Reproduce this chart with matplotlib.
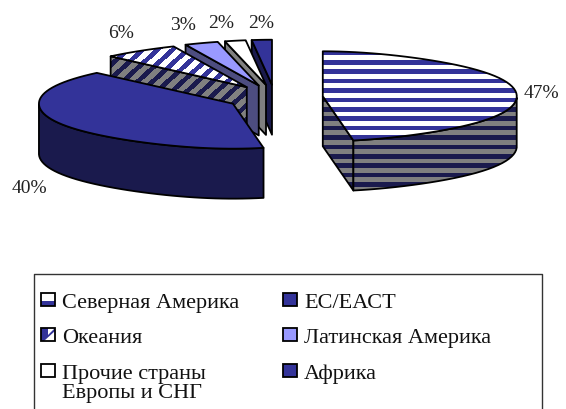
import numpy as np
import matplotlib
matplotlib.use("Agg")
import matplotlib.pyplot as plt
from matplotlib.patches import Polygon, Rectangle
from matplotlib.colors import ListedColormap

regions = ["Северная Америка", "ЕС/ЕАСТ", "Океания", "Латинская Америка",
           "Прочие страны\nЕвропы и СНГ", "Африка"]
shares = [47, 40, 6, 3, 2, 2]

# fill styles, same order as regions
top_colors = ["#333399", "#333399", "#333399", "#9999ff", "#ffffff", "#333399"]
side_colors = ["#1a1a4d", "#1a1a4d", "#1a1a4d", "#4d4d80", "#808080", "#1a1a4d"]
patterns = ["hline", None, "diag", None, None, None]
label_pos = [(541, 93), (29, 189), (121, 33), (183, 25), (221, 23), (261, 23)]
legend_pos = [(41, 294), (283, 294), (41, 329), (283, 329), (41, 365), (283, 365)]

rx, ry, depth, explode = 194, 45, 50, 48
cx, cy = 275, 98.5

plt.rcParams["font.family"] = ["Liberation Serif", "DejaVu Serif"]
fig = plt.figure(figsize=(5.66, 4.10), dpi=100)
ax = fig.add_axes([0, 0, 1, 1])
ax.set_xlim(0, 566)
ax.set_ylim(410, 0)
ax.axis("off")


def stripes(kind, c1, c2, box, zorder):
    x0, y0, x1, y1 = box
    xx, yy = np.meshgrid(np.arange(x0, x1) + 0.5, np.arange(y0, y1) + 0.5)
    if kind == "hline":
        img = ((yy - 4.55) % 9.4) < 4.7
    else:
        img = ((xx + yy * 1.1) % 15) < 7
    return ax.imshow(img.astype(int), cmap=ListedColormap([c1, c2]), vmin=0, vmax=1,
                     extent=(x0, x1, y1, y0), interpolation="bilinear",
                     zorder=zorder, aspect="auto")


def paint(pts, color, kind, z):
    if kind is None:
        ax.add_patch(Polygon(pts, closed=True, fc=color, ec="none", zorder=z))
    else:
        p = Polygon(pts, closed=True, fc="none", ec="none", zorder=z, transform=ax.transData)
        ax.add_patch(p)
        c2 = "#ffffff" if color == "#333399" else "#808080"
        im = stripes(kind, c2, color, (0, 0, 566, 270), z)
        im.set_clip_path(p)
    ax.add_patch(Polygon(pts, closed=True, fc="none", ec="black", lw=1.3, zorder=z + 0.05, joinstyle="round"))


def rim(ox, oy, deg):
    a = np.radians(deg)
    s = np.sin(a)
    return np.column_stack([ox + rx * np.cos(a) * (1 - 0.17 * s ** 4), oy - ry * s])


# slices run clockwise from 12 o'clock
edges = 90 - np.cumsum([0] + shares) * 3.6
draw_order = [0, 5, 4, 3, 2, 1]

for n, i in enumerate(draw_order):
    a0, a1 = edges[i], edges[i + 1]
    mid = np.radians((a0 + a1) / 2)
    ox = cx + explode * np.cos(mid)
    oy = cy - explode * 1.15 * ry / rx * np.sin(mid)
    arc = rim(ox, oy, np.linspace(a0, a1, 60))
    z = 2 + n
    down = np.array([0, depth])
    apex = np.array([ox, oy])

    # cut faces that look towards the viewer
    for edge_pt, normal in [(arc[-1], a1 - 90), (arc[0], a0 + 90)]:
        if np.sin(np.radians(normal)) < -0.01:
            face = np.array([apex, edge_pt, edge_pt + down, apex + down])
            paint(face, side_colors[i], patterns[i], z)

    # outer wall
    front = arc[np.sin(np.radians(np.linspace(a0, a1, 60))) < 0]
    if len(front) > 1:
        wall = np.vstack([front, (front + down)[::-1]])
        paint(wall, side_colors[i], patterns[i], z + 0.1)

    top = np.vstack([apex, arc])
    if top_colors[i] == "#333399" and patterns[i] is not None:
        paint(top, "#333399", patterns[i], z + 0.2)
    else:
        paint(top, top_colors[i], None, z + 0.2)

for v, (lx, ly) in zip(shares, label_pos):
    ax.text(lx, ly, f"{v}%", fontsize=14, color="#222222", ha="center", va="center", zorder=20)

# legend box, its bottom edge falls off the picture
ax.plot([33.5, 33.5, 541.5, 541.5], [410, 274.5, 274.5, 410], color="#333333", lw=1.0, zorder=20)
for i, (lx, ly) in enumerate(legend_pos):
    sw = [(lx, ly), (lx + 14, ly), (lx + 14, ly + 13), (lx, ly + 13)]
    if patterns[i] == "hline":
        ax.add_patch(Rectangle((lx, ly), 14, 13, fc="white", ec="none", zorder=20))
        ax.add_patch(Rectangle((lx, ly + 8), 14, 5, fc=top_colors[i], ec="none", zorder=20))
    elif patterns[i] == "diag":
        ax.add_patch(Rectangle((lx, ly), 14, 13, fc=top_colors[i], ec="none", zorder=20))
        ax.add_patch(Polygon([(lx + 3, ly + 13), (lx + 14, ly + 3), (lx + 14, ly + 13)], fc="white", ec="none", zorder=20))
        ax.add_patch(Polygon([(lx + 7, ly + 7), (lx + 14, ly), (lx + 7, ly)], fc="white", ec="none", zorder=20))
    else:
        ax.add_patch(Rectangle((lx, ly), 14, 13, fc=top_colors[i], ec="none", zorder=20))
    ax.add_patch(Polygon(sw, closed=True, fc="none", ec="black", lw=1.3, zorder=21))
    ax.text(lx + 21, ly, regions[i], fontsize=16, color="#111111", va="top", ha="left",
            linespacing=1.03, zorder=21)

fig.savefig("out.png", dpi=100)
